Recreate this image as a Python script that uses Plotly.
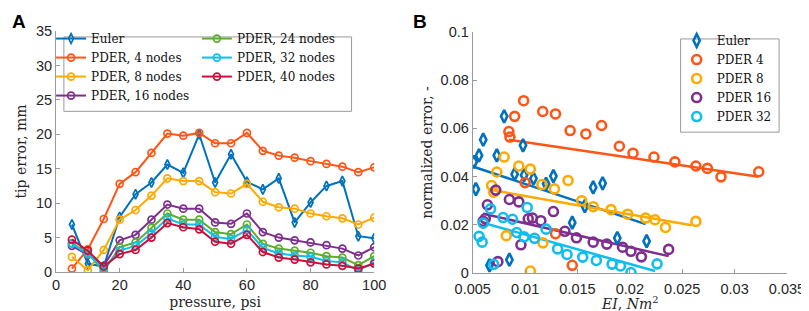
import plotly.graph_objects as go

# ---------------- Panel A data ----------------
pressure = [5, 10, 15, 20, 25, 30, 35, 40, 45, 50, 55, 60, 65, 70, 75, 80, 85, 90, 95, 100]
tip_euler = [6.9, 1.2, 0.8, 8.0, 11.3, 13.0, 15.6, 14.4, 20.0, 13.0, 17.1, 13.1, 12.0, 13.6, 7.2, 10.1, 12.5, 13.2, 5.2, 4.9]
tip_p4 = [0.5, 3.3, 7.7, 12.8, 14.5, 17.3, 20.1, 19.8, 20.2, 18.7, 18.7, 20.2, 17.6, 16.9, 16.6, 16.1, 15.7, 15.3, 14.5, 15.2]
tip_p8 = [2.2, 0.25, 3.2, 7.6, 9.0, 11.1, 13.6, 13.2, 13.2, 11.6, 11.4, 12.8, 10.2, 9.4, 9.2, 8.5, 8.1, 7.8, 6.9, 7.9]
tip_p16 = [3.8, 2.5, 0.9, 4.6, 5.4, 7.6, 9.8, 9.2, 9.2, 7.2, 7.0, 8.5, 5.8, 5.0, 4.6, 4.3, 3.9, 3.4, 2.4, 3.6]
tip_p24 = [4.2, 2.7, 0.1, 3.6, 4.3, 6.4, 8.5, 7.6, 7.6, 5.8, 5.5, 6.9, 4.1, 3.4, 3.1, 2.8, 2.3, 2.1, 1.0, 2.3]
tip_p32 = [4.1, 2.6, 0.5, 3.1, 3.8, 5.6, 7.8, 6.9, 6.9, 5.1, 4.8, 6.1, 3.5, 2.7, 2.4, 2.2, 1.6, 1.4, 0.25, 1.4]
tip_p40 = [4.7, 3.1, 0.8, 2.6, 3.2, 5.0, 7.1, 6.5, 6.2, 4.4, 4.1, 5.4, 2.9, 2.1, 1.8, 1.4, 1.1, 0.9, 0.5, 1.2]
names_a = ["Euler", "PDER, 4 nodes", "PDER, 8 nodes", "PDER, 16 nodes",
           "PDER, 24 nodes", "PDER, 32 nodes", "PDER, 40 nodes"]
xticks_a = [0, 20, 40, 60, 80, 100]
yticks_a = [0, 5, 10, 15, 20, 25, 30, 35]

# ---------------- Panel B data ----------------
ei_euler = [0.0080, 0.0060, 0.0056, 0.0051, 0.0073, 0.0098, 0.0090, 0.0099, 0.0108, 0.0127,
            0.0120, 0.0053, 0.0145, 0.0165, 0.0174, 0.0157, 0.0066, 0.0085, 0.0188, 0.0216]
err_euler = [0.065, 0.0553, 0.0488, 0.0461, 0.0488, 0.053, 0.041, 0.0406, 0.0392, 0.0402,
             0.0370, 0.0348, 0.0209, 0.0355, 0.0372, 0.0277, 0.0032, 0.0055, 0.0145, 0.0132]
ei_p4 = [0.00986, 0.0090, 0.00845, 0.00855, 0.01168, 0.0129, 0.0143, 0.0158, 0.0173, 0.0190,
         0.0203, 0.0223, 0.0243, 0.0263, 0.0274, 0.0287, 0.0323, 0.0100, 0.0129, 0.0145]
err_p4 = [0.0715, 0.065, 0.0587, 0.0564, 0.067, 0.066, 0.0591, 0.0577, 0.0612, 0.0526,
          0.0497, 0.0481, 0.0461, 0.0444, 0.0434, 0.0399, 0.042, 0.0375, 0.0163, 0.0032]
ei_p8 = [0.0080, 0.0094, 0.0105, 0.0073, 0.0068, 0.0070, 0.0116, 0.0128, 0.0141, 0.0154,
         0.0165, 0.0182, 0.0198, 0.0215, 0.0224, 0.0234, 0.0263, 0.0082, 0.0117, 0.0105]
err_p8 = [0.0481, 0.0444, 0.0431, 0.0419, 0.0363, 0.0335, 0.0367, 0.0349, 0.0384, 0.0300,
          0.0275, 0.0263, 0.0244, 0.0228, 0.0221, 0.0189, 0.0214, 0.0155, 0.0125, 0.0008]
ei_p16 = [0.0072, 0.0064, 0.0085, 0.0094, 0.0127, 0.0062, 0.0060, 0.0103, 0.0107, 0.0115,
          0.0138, 0.0149, 0.0165, 0.0178, 0.0193, 0.0201, 0.0211, 0.0237, 0.0096, 0.0074]
err_p16 = [0.0344, 0.0283, 0.0305, 0.0295, 0.0255, 0.0226, 0.0215, 0.0225, 0.0228, 0.0217,
           0.0173, 0.0146, 0.0128, 0.0120, 0.0107, 0.0090, 0.0067, 0.0098, 0.0117, 0.0047]
ei_p32 = [0.0067, 0.0060, 0.0056, 0.0059, 0.0079, 0.0088, 0.0102, 0.0092, 0.0099, 0.0109,
          0.0120, 0.0131, 0.0140, 0.0155, 0.0168, 0.0183, 0.0191, 0.0201, 0.0226, 0.0070]
err_p32 = [0.0266, 0.0207, 0.0152, 0.0128, 0.0230, 0.0223, 0.0272, 0.0168, 0.0150, 0.0144,
           0.0182, 0.0100, 0.0077, 0.0066, 0.0052, 0.0037, 0.0029, 0.0002, 0.0038, 0.0036]
# trend line end points (EI, error)
fit_euler_x = [0.0050, 0.0215]
fit_euler_y = [0.0442, 0.0203]
fit_p4_x = [0.00845, 0.0323]
fit_p4_y = [0.0553, 0.0399]
fit_p8_x = [0.0067, 0.0259]
fit_p8_y = [0.0345, 0.0198]
fit_p16_x = [0.0060, 0.0237]
fit_p16_y = [0.0246, 0.0070]
fit_p32_x = [0.00585, 0.0224]
fit_p32_y = [0.0210, 0.0008]
names_b = ["Euler", "PDER 4", "PDER 8", "PDER 16", "PDER 32"]
xticks_b = [0.005, 0.01, 0.015, 0.02, 0.025, 0.03, 0.035]
xticklabels_b = ["0.005", "0.01", "0.015", "0.02", "0.025", "0.03", "0.035"]
yticks_b = [0, 0.02, 0.04, 0.06, 0.08, 0.1]
yticklabels_b = ["0", "0.02", "0.04", "0.06", "0.08", "0.1"]

# ---------------- styling ----------------
C_EULER = "#0072BD"
C_P4 = "#FF5516"
C_P8 = "#FFAA00"
C_P16 = "#7E2F8E"
C_P24 = "#5DAE2B"
C_P32 = "#10BDEF"
C_P40 = "#CC0F3A"
SERIF = "DejaVu Serif"
SANS = "Liberation Sans"
AXC = "#9a9a9a"

W, H = 809, 311
ML, MR, MT, MB = 47, 20, 23, 44
PW, PH = W - ML - MR, H - MT - MB


def px(x):
    return (x - ML) / PW


def py(y):
    return (H - MB - y) / PH


fig = go.Figure()

series_a = [
    (tip_euler, C_EULER, "diamond-tall-open", "legend"),
    (tip_p4, C_P4, "circle-open", "legend"),
    (tip_p8, C_P8, "circle-open", "legend"),
    (tip_p16, C_P16, "circle-open", "legend"),
    (tip_p24, C_P24, "circle-open", "legend2"),
    (tip_p32, C_P32, "circle-open", "legend2"),
    (tip_p40, C_P40, "circle-open", "legend2"),
]
for (vals, col, sym, leg), name in zip(series_a, names_a):
    fig.add_trace(go.Scatter(
        x=pressure, y=vals, name=name, mode="lines+markers",
        line=dict(color=col, width=2),
        marker=dict(symbol=sym, size=7, color=col, line=dict(color=col, width=1.7)),
        xaxis="x", yaxis="y", legend=leg))

series_b = [
    (ei_euler, err_euler, fit_euler_x, fit_euler_y, C_EULER, "diamond-tall-open"),
    (ei_p4, err_p4, fit_p4_x, fit_p4_y, C_P4, "circle-open"),
    (ei_p8, err_p8, fit_p8_x, fit_p8_y, C_P8, "circle-open"),
    (ei_p16, err_p16, fit_p16_x, fit_p16_y, C_P16, "circle-open"),
    (ei_p32, err_p32, fit_p32_x, fit_p32_y, C_P32, "circle-open"),
]
for (xs, ys, fx, fy, col, sym), name in zip(series_b, names_b):
    fig.add_trace(go.Scatter(
        x=fx, y=fy, mode="lines", line=dict(color=col, width=2.5),
        showlegend=False, xaxis="x2", yaxis="y2", hoverinfo="skip"))
for (xs, ys, fx, fy, col, sym), name in zip(series_b, names_b):
    fig.add_trace(go.Scatter(
        x=xs, y=ys, name=name, mode="markers",
        marker=dict(symbol=sym, size=9, color=col, line=dict(color=col, width=2.6)),
        xaxis="x2", yaxis="y2", legend="legend3"))

axis_common = dict(showline=True, linecolor=AXC, linewidth=1, ticks="inside",
                   ticklen=4, tickcolor=AXC, showgrid=False, zeroline=False,
                   tickfont=dict(family=SANS, size=14.5, color="#262626"),
                   mirror=False)
title_font = dict(family=SERIF, size=14, color="#262626")
leg_font = dict(family=SERIF, size=12, color="#111")

fig.update_layout(
    width=W, height=H,
    margin=dict(l=ML, r=MR, t=MT, b=MB),
    paper_bgcolor="white", plot_bgcolor="white",
    xaxis=dict(domain=[0, px(370)], range=[0, 100], tickvals=xticks_a, anchor="y",
               title=dict(text="pressure, psi", font=title_font, standoff=4),
               **axis_common),
    yaxis=dict(domain=[py(266), 1], range=[0, 35], tickvals=yticks_a, anchor="x",
               title=dict(text="tip error, mm", font=title_font, standoff=6),
               **axis_common),
    xaxis2=dict(domain=[px(470), px(789)], range=[0.005, 0.035], tickvals=xticks_b,
                ticktext=xticklabels_b, anchor="y2", ticklabelstandoff=3,
                **axis_common),
    yaxis2=dict(domain=[py(267), py(24)], range=[0, 0.1], tickvals=yticks_b,
                ticktext=yticklabels_b, anchor="x2",
                title=dict(text="normalized error, -", font=title_font, standoff=4),
                **axis_common),
    legend=dict(x=px(42), y=py(16), xanchor="left", yanchor="top",
                bgcolor="rgba(0,0,0,0)", borderwidth=0,
                font=leg_font, tracegroupgap=0),
    legend2=dict(x=px(190), y=py(16), xanchor="left", yanchor="top",
                 bgcolor="rgba(0,0,0,0)", borderwidth=0,
                 font=leg_font, tracegroupgap=0),
    legend3=dict(x=px(677), y=py(18), xanchor="left", yanchor="top",
                 bgcolor="rgba(0,0,0,0)", borderwidth=0,
                 font=leg_font, tracegroupgap=0),
    shapes=[
        dict(type="rect", xref="paper", yref="paper",
             x0=px(55), x1=px(347), y0=py(104), y1=py(29),
             line=dict(color=AXC, width=1), fillcolor="white", layer="above"),
        dict(type="rect", xref="paper", yref="paper",
             x0=px(681), x1=px(781), y0=py(125), y1=py(31),
             line=dict(color=AXC, width=1), fillcolor="white", layer="above"),
    ],
    annotations=[
        dict(text="<b>A</b>", x=px(9.5), y=py(13), xref="paper", yref="paper",
             xanchor="center", yanchor="middle", showarrow=False,
             font=dict(family=SANS, size=19, color="black")),
        dict(text="<b>B</b>", x=px(416.5), y=py(13), xref="paper", yref="paper",
             xanchor="center", yanchor="middle", showarrow=False,
             font=dict(family=SANS, size=19, color="black")),
        dict(text="<i>EI</i>, <i>Nm</i><sup>2</sup>", x=px(629.5), y=py(297),
             xref="paper", yref="paper", xanchor="center", yanchor="middle",
             showarrow=False, font=title_font),
    ],
)

fig.write_html("out.html")
